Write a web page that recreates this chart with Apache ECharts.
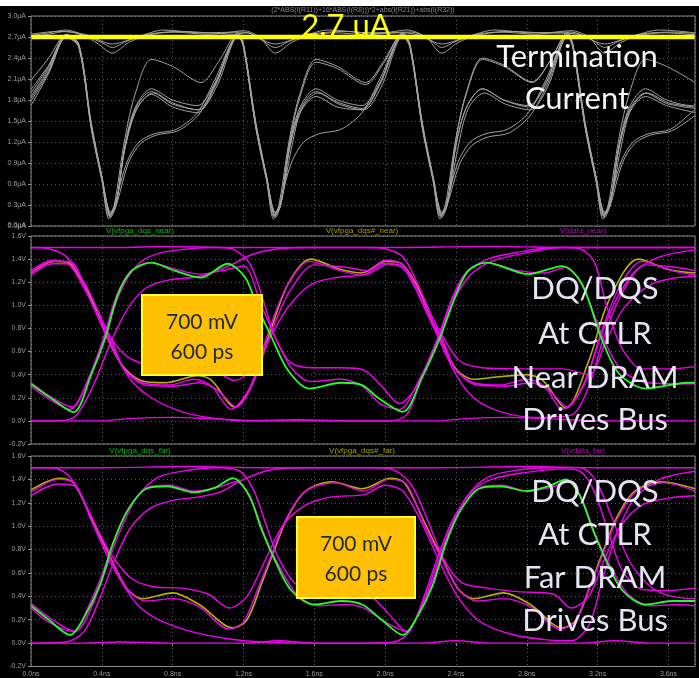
<!DOCTYPE html>
<html><head><meta charset="utf-8">
<script src="https://cdn.jsdelivr.net/npm/echarts@6/dist/echarts.min.js"></script>
<style>html,body{margin:0;padding:0;background:#fff}#c{width:699px;height:678px}</style>
</head><body><div id="c"></div>
<script>
// ---------- axis ticks ----------
const timeTicks = [0.0,0.4,0.8,1.2,1.6,2.0,2.4,2.8,3.2,3.6];
const currentTicks = [0.0,0.3,0.6,0.9,1.2,1.5,1.8,2.1,2.4,2.7,3.0];
const voltTicks = [-0.2,0.0,0.2,0.4,0.6,0.8,1.0,1.2,1.4,1.6];
const termLevel = [2.7];

// ---------- panel 1: termination current (uA), [ns, uA] ----------
const curTop1 = [[0,2.72],[0.1,2.76],[0.2,2.8],[0.3,2.72],[0.38,2.6],[0.46,2.47],[0.55,2.62],[0.65,2.72],[0.8,2.77],[1.0,2.74],[1.1,2.76],[1.2,2.79],[1.29,2.7],[1.38,2.47],[1.47,2.62],[1.57,2.72],[1.72,2.76],[1.9,2.73],[2.03,2.77],[2.12,2.8],[2.23,2.7],[2.32,2.47],[2.41,2.62],[2.51,2.72],[2.66,2.77],[2.85,2.74],[3.05,2.79],[3.15,2.7],[3.24,2.47],[3.33,2.62],[3.43,2.72],[3.58,2.76],[3.75,2.73]];
const curTop2 = [[0,2.7],[0.1,2.74],[0.2,2.78],[0.32,2.7],[0.4,2.62],[0.46,2.55],[0.54,2.64],[0.66,2.74],[0.85,2.78],[1.0,2.76],[1.15,2.74],[1.22,2.76],[1.3,2.66],[1.38,2.55],[1.46,2.64],[1.58,2.74],[1.78,2.78],[1.95,2.75],[2.1,2.76],[2.2,2.72],[2.26,2.64],[2.32,2.55],[2.4,2.64],[2.52,2.74],[2.72,2.78],[2.88,2.76],[3.05,2.75],[3.12,2.72],[3.18,2.64],[3.24,2.55],[3.32,2.64],[3.44,2.74],[3.62,2.77],[3.75,2.75]];
const curTop3 = [[0,2.74],[0.15,2.78],[0.3,2.74],[0.46,2.6],[0.6,2.7],[0.75,2.8],[0.95,2.76],[1.2,2.77],[1.38,2.6],[1.52,2.7],[1.68,2.8],[1.9,2.76],[2.15,2.77],[2.32,2.6],[2.46,2.7],[2.62,2.8],[2.82,2.76],[3.05,2.77],[3.24,2.6],[3.38,2.7],[3.55,2.8],[3.75,2.76]];
const curHigh = [[0,2.08],[0.1,2.4],[0.2,2.74],[0.27,2.6],[0.34,1.45],[0.4,0.68],[0.44,0.14],[0.47,0.3],[0.53,1.25],[0.59,1.9],[0.68,2.38],[0.8,2.28],[0.96,2.05],[1.06,2.35],[1.17,2.76],[1.2,2.6],[1.27,1.45],[1.33,0.68],[1.37,0.14],[1.4,0.3],[1.46,1.25],[1.52,1.9],[1.61,2.38],[1.73,2.28],[1.89,2.05],[1.99,2.35],[2.1,2.76],[2.14,2.6],[2.21,1.45],[2.27,0.68],[2.31,0.14],[2.34,0.3],[2.4,1.25],[2.46,1.9],[2.55,2.38],[2.67,2.28],[2.83,2.05],[2.93,2.35],[3.03,2.76],[3.06,2.6],[3.13,1.45],[3.19,0.68],[3.23,0.14],[3.26,0.3],[3.32,1.25],[3.38,1.9],[3.47,2.38],[3.59,2.28],[3.75,2.05]];
const curMid = [[0,1.85],[0.1,2.25],[0.2,2.72],[0.27,2.58],[0.34,1.42],[0.4,0.7],[0.45,0.2],[0.48,0.3],[0.53,1.15],[0.59,1.7],[0.68,1.96],[0.8,1.8],[0.94,1.72],[1.04,2.05],[1.17,2.74],[1.2,2.58],[1.27,1.42],[1.33,0.7],[1.38,0.2],[1.41,0.3],[1.46,1.15],[1.52,1.7],[1.61,1.96],[1.73,1.8],[1.87,1.72],[1.97,2.05],[2.1,2.74],[2.14,2.58],[2.21,1.42],[2.27,0.7],[2.32,0.2],[2.35,0.3],[2.4,1.15],[2.46,1.7],[2.55,1.96],[2.67,1.8],[2.81,1.72],[2.91,2.05],[3.03,2.74],[3.06,2.58],[3.13,1.42],[3.19,0.7],[3.24,0.2],[3.27,0.3],[3.32,1.15],[3.38,1.7],[3.47,1.96],[3.59,1.8],[3.73,1.72],[3.75,1.73]];
const curMid2 = [[0,1.82],[0.1,2.22],[0.2,2.7],[0.27,2.55],[0.34,1.4],[0.4,0.66],[0.45,0.16],[0.48,0.3],[0.53,1.1],[0.6,1.68],[0.69,1.9],[0.8,1.74],[0.95,1.66],[1.05,2.0],[1.17,2.71],[1.2,2.55],[1.27,1.4],[1.33,0.66],[1.38,0.16],[1.41,0.3],[1.47,1.1],[1.53,1.68],[1.62,1.9],[1.74,1.74],[1.88,1.66],[1.98,2.0],[2.1,2.71],[2.14,2.55],[2.21,1.4],[2.27,0.66],[2.32,0.16],[2.35,0.3],[2.41,1.1],[2.47,1.68],[2.56,1.9],[2.68,1.74],[2.82,1.66],[2.92,2.0],[3.03,2.71],[3.06,2.55],[3.13,1.4],[3.19,0.66],[3.24,0.16],[3.27,0.3],[3.33,1.1],[3.39,1.68],[3.48,1.9],[3.6,1.76],[3.75,1.7]];
const curLow = [[0,1.72],[0.1,2.18],[0.2,2.7],[0.27,2.56],[0.34,1.4],[0.4,0.66],[0.44,0.1],[0.47,0.28],[0.54,0.9],[0.61,1.2],[0.7,1.32],[0.82,1.38],[0.94,1.62],[1.04,2.1],[1.17,2.72],[1.2,2.56],[1.27,1.4],[1.33,0.66],[1.37,0.1],[1.4,0.28],[1.47,0.9],[1.54,1.2],[1.63,1.32],[1.75,1.38],[1.87,1.62],[1.97,2.1],[2.1,2.72],[2.14,2.56],[2.21,1.4],[2.27,0.66],[2.31,0.1],[2.34,0.28],[2.41,0.9],[2.48,1.2],[2.57,1.32],[2.69,1.38],[2.81,1.62],[2.91,2.1],[3.03,2.72],[3.06,2.56],[3.13,1.4],[3.19,0.66],[3.23,0.1],[3.26,0.28],[3.33,0.9],[3.4,1.2],[3.49,1.32],[3.61,1.38],[3.73,1.62],[3.75,1.66]];
const curMixA = [[0,1.95],[0.1,2.3],[0.2,2.73],[0.27,2.6],[0.34,1.48],[0.4,0.72],[0.45,0.18],[0.48,0.32],[0.53,1.1],[0.59,1.65],[0.68,1.88],[0.8,1.7],[0.94,1.62],[1.04,2.0],[1.17,2.73],[1.2,2.6],[1.27,1.48],[1.33,0.72],[1.38,0.18],[1.41,0.32],[1.46,1.2],[1.52,1.85],[1.61,2.34],[1.73,2.25],[1.89,2.02],[1.99,2.32],[2.1,2.75],[2.14,2.6],[2.21,1.48],[2.27,0.72],[2.32,0.18],[2.35,0.3],[2.42,0.88],[2.49,1.15],[2.58,1.27],[2.7,1.33],[2.82,1.58],[2.92,2.05],[3.03,2.7],[3.06,2.6],[3.13,1.48],[3.19,0.72],[3.24,0.18],[3.27,0.32],[3.32,1.1],[3.38,1.62],[3.47,1.85],[3.59,1.72],[3.75,1.62]];
const curMixB = [[0,1.78],[0.1,2.2],[0.2,2.71],[0.27,2.57],[0.34,1.44],[0.4,0.7],[0.45,0.12],[0.48,0.3],[0.53,1.12],[0.59,1.68],[0.68,1.92],[0.8,1.76],[0.94,1.66],[1.04,2.02],[1.17,2.72],[1.2,2.57],[1.27,1.44],[1.33,0.7],[1.38,0.12],[1.41,0.3],[1.46,1.1],[1.52,1.62],[1.61,1.85],[1.73,1.7],[1.87,1.66],[1.97,2.02],[2.1,2.72],[2.14,2.57],[2.21,1.44],[2.27,0.7],[2.32,0.12],[2.35,0.3],[2.4,1.25],[2.46,1.92],[2.55,2.4],[2.67,2.3],[2.83,2.06],[2.93,2.35],[3.03,2.76],[3.06,2.57],[3.13,1.44],[3.19,0.7],[3.24,0.12],[3.27,0.3],[3.32,1.12],[3.38,1.66],[3.47,1.9],[3.59,1.75],[3.75,1.68]];
const curMixC = [[0,1.9],[0.1,2.28],[0.2,2.72],[0.27,2.58],[0.34,1.43],[0.4,0.7],[0.45,0.15],[0.48,0.28],[0.55,0.9],[0.62,1.18],[0.71,1.3],[0.83,1.36],[0.95,1.6],[1.05,2.08],[1.17,2.71],[1.2,2.58],[1.27,1.43],[1.33,0.7],[1.38,0.15],[1.41,0.3],[1.46,1.12],[1.52,1.66],[1.61,1.92],[1.73,1.77],[1.87,1.68],[1.97,2.03],[2.1,2.73],[2.14,2.58],[2.21,1.43],[2.27,0.7],[2.32,0.15],[2.35,0.3],[2.4,1.15],[2.46,1.7],[2.55,1.96],[2.67,1.8],[2.81,1.7],[2.91,2.05],[3.03,2.73],[3.06,2.58],[3.13,1.43],[3.19,0.7],[3.24,0.15],[3.27,0.28],[3.34,0.9],[3.41,1.18],[3.5,1.3],[3.62,1.36],[3.75,1.58]];

// ---------- panel 2: near DRAM (V) ----------
const dqsNear = [[0,0.32],[0.12,0.19],[0.24,0.075],[0.34,0.4],[0.42,0.72],[0.49,1.09],[0.57,1.3],[0.68,1.37],[0.81,1.3],[0.96,1.24],[1.11,1.36],[1.21,1.24],[1.28,0.98],[1.36,0.72],[1.45,0.44],[1.57,0.28],[1.75,0.33],[1.87,0.31],[1.96,0.2],[2.1,0.08],[2.21,0.38],[2.31,0.72],[2.4,1.09],[2.47,1.3],[2.57,1.37],[2.81,1.27],[3.0,1.34],[3.11,1.19],[3.22,0.72],[3.32,0.41],[3.47,0.28],[3.71,0.33],[3.75,0.33]];
const dqsbNear = [[0,1.28],[0.13,1.38],[0.21,1.37],[0.3,1.18],[0.38,0.92],[0.43,0.72],[0.51,0.49],[0.62,0.35],[0.76,0.33],[0.94,0.39],[1.02,0.35],[1.15,0.12],[1.25,0.32],[1.34,0.72],[1.45,1.18],[1.58,1.4],[1.75,1.31],[1.87,1.28],[2.0,1.38],[2.08,1.37],[2.17,1.2],[2.25,0.92],[2.31,0.72],[2.4,0.45],[2.5,0.36],[2.63,0.38],[2.8,0.4],[2.89,0.35],[3.02,0.11],[3.15,0.52],[3.26,1.03],[3.43,1.4],[3.6,1.31],[3.75,1.28]];
const dataNearTop = [[0,1.5],[0.5,1.5],[0.75,1.51],[1.2,1.5],[1.6,1.5],[2.0,1.5],[2.6,1.51],[3.1,1.5],[3.5,1.5],[3.75,1.5]];
const dataNearBot = [[0,0.0],[0.4,0.0],[0.55,0.02],[0.8,0.03],[1.0,0.02],[1.3,0.0],[1.8,0.0],[2.3,0.0],[2.45,0.02],[2.7,0.03],[2.9,0.02],[3.2,0.0],[3.75,0.0]];
const dataNearA = [[0,0.3],[0.12,0.17],[0.22,0.1],[0.32,0.35],[0.41,0.72],[0.48,1.07],[0.56,1.29],[0.67,1.37],[0.8,1.32],[0.95,1.27],[1.08,1.3],[1.2,1.34],[1.3,1.0],[1.38,0.72],[1.47,0.46],[1.58,0.34],[1.75,0.36],[1.87,0.3],[1.97,0.15],[2.08,0.1],[2.19,0.35],[2.3,0.72],[2.38,1.07],[2.46,1.29],[2.57,1.37],[2.75,1.3],[2.9,1.28],[3.02,1.33],[3.12,1.15],[3.23,0.72],[3.33,0.45],[3.48,0.33],[3.75,0.32]];
const dataNearB = [[0,1.26],[0.12,1.36],[0.2,1.36],[0.3,1.15],[0.38,0.9],[0.44,0.72],[0.52,0.46],[0.63,0.33],[0.78,0.31],[0.92,0.36],[1.02,0.3],[1.13,0.1],[1.24,0.3],[1.33,0.72],[1.44,1.15],[1.57,1.38],[1.75,1.3],[1.87,1.26],[1.99,1.36],[2.08,1.35],[2.17,1.15],[2.25,0.9],[2.31,0.72],[2.39,0.46],[2.5,0.33],[2.65,0.31],[2.8,0.36],[2.9,0.3],[3.0,0.1],[3.12,0.3],[3.21,0.72],[3.32,1.15],[3.45,1.38],[3.62,1.3],[3.75,1.26]];
const dataNearC = [[0,1.3],[0.12,1.39],[0.22,1.35],[0.31,1.12],[0.39,0.88],[0.45,0.72],[0.53,0.44],[0.65,0.31],[0.8,0.3],[0.95,0.33],[1.05,0.27],[1.16,0.12],[1.26,0.35],[1.35,0.74],[1.46,1.12],[1.6,1.35],[1.78,1.33],[1.9,1.3],[2.0,1.39],[2.1,1.35],[2.19,1.12],[2.26,0.88],[2.32,0.72],[2.4,0.44],[2.52,0.31],[2.68,0.3],[2.82,0.33],[2.92,0.27],[3.03,0.12],[3.13,0.35],[3.22,0.74],[3.33,1.12],[3.47,1.35],[3.64,1.33],[3.75,1.3]];
const dataNearD = [[0,0.0],[0.15,0.0],[0.25,0.04],[0.35,0.3],[0.45,0.68],[0.55,0.98],[0.65,1.15],[0.78,1.22],[0.95,1.25],[1.1,1.33],[1.25,1.44],[1.4,1.49],[1.6,1.5],[1.9,1.5],[2.0,1.49],[2.1,1.42],[2.18,1.2],[2.26,0.92],[2.33,0.72],[2.42,0.52],[2.55,0.46],[2.75,0.45],[3.0,0.45],[3.15,0.4],[3.25,0.7],[3.35,0.98],[3.5,1.18],[3.65,1.24],[3.75,1.25]];
const dataNearE = [[0,1.5],[0.1,1.49],[0.2,1.42],[0.3,1.2],[0.38,0.95],[0.45,0.72],[0.55,0.55],[0.7,0.47],[0.9,0.44],[1.05,0.42],[1.15,0.35],[1.25,0.45],[1.35,0.72],[1.45,0.98],[1.58,1.18],[1.72,1.24],[1.9,1.27],[2.02,1.36],[2.12,1.3],[2.2,1.05],[2.3,0.72],[2.4,0.4],[2.5,0.2],[2.65,0.08],[2.85,0.03],[3.05,0.05],[3.15,0.3],[3.23,0.7],[3.32,1.05],[3.42,1.3],[3.55,1.42],[3.75,1.48]];
const dataNearF = [[0,1.28],[0.12,1.38],[0.22,1.38],[0.32,1.1],[0.4,0.82],[0.47,0.6],[0.56,0.36],[0.68,0.2],[0.85,0.08],[1.0,0.03],[1.2,0.0],[1.5,0.01],[1.8,0.0],[2.0,0.0],[2.12,0.05],[2.2,0.35],[2.3,0.72],[2.38,1.02],[2.48,1.26],[2.6,1.38],[2.78,1.45],[3.0,1.5],[3.1,1.49],[3.18,1.38],[3.25,1.0],[3.33,0.65],[3.45,0.45],[3.6,0.45],[3.75,0.47]];
const dataNearG = [[0,0.33],[0.12,0.2],[0.23,0.12],[0.33,0.38],[0.42,0.75],[0.5,1.1],[0.6,1.35],[0.72,1.45],[0.9,1.49],[1.05,1.5],[1.15,1.48],[1.24,1.35],[1.31,1.05],[1.38,0.72],[1.47,0.5],[1.6,0.46],[1.75,0.46],[1.88,0.44],[1.98,0.3],[2.08,0.15],[2.18,0.3],[2.28,0.65],[2.37,1.02],[2.46,1.28],[2.58,1.4],[2.75,1.46],[2.95,1.5],[3.2,1.5],[3.5,1.5],[3.75,1.5]];

// ---------- panel 3: far DRAM (V) ----------
const dqsFar = [[0,0.32],[0.1,0.2],[0.22,0.07],[0.3,0.22],[0.39,0.5],[0.46,0.84],[0.54,1.12],[0.65,1.32],[0.77,1.34],[0.92,1.29],[1.04,1.33],[1.14,1.41],[1.23,1.27],[1.3,0.98],[1.38,0.7],[1.47,0.45],[1.6,0.33],[1.75,0.36],[1.87,0.33],[1.98,0.2],[2.1,0.07],[2.18,0.22],[2.27,0.5],[2.34,0.84],[2.42,1.12],[2.53,1.32],[2.65,1.34],[2.8,1.3],[2.92,1.34],[3.02,1.4],[3.1,1.26],[3.17,0.98],[3.25,0.7],[3.34,0.45],[3.47,0.33],[3.62,0.36],[3.75,0.36]];
const dqsbFar = [[0,1.31],[0.16,1.41],[0.24,1.37],[0.35,1.04],[0.45,0.73],[0.54,0.47],[0.63,0.38],[0.8,0.43],[0.95,0.33],[1.14,0.13],[1.22,0.2],[1.3,0.5],[1.37,0.78],[1.45,1.08],[1.55,1.3],[1.7,1.38],[1.87,1.32],[2.03,1.41],[2.11,1.37],[2.22,1.04],[2.32,0.73],[2.41,0.47],[2.5,0.38],[2.67,0.43],[2.82,0.33],[3.0,0.13],[3.08,0.2],[3.16,0.5],[3.23,0.78],[3.31,1.08],[3.41,1.3],[3.56,1.38],[3.75,1.32]];
const dataFarTop = [[0,1.5],[0.4,1.5],[0.9,1.51],[1.3,1.5],[1.8,1.5],[2.3,1.5],[2.8,1.51],[3.2,1.5],[3.75,1.5]];
const dataFarBot = [[0,0.0],[0.3,0.0],[0.5,0.01],[0.8,0.0],[1.2,0.0],[1.4,0.02],[1.6,0.0],[2.2,0.0],[2.4,0.02],[2.6,0.0],[3.1,0.0],[3.3,0.02],[3.5,0.0],[3.75,0.0]];
const dataFarA = [[0,0.3],[0.1,0.18],[0.24,0.1],[0.32,0.3],[0.4,0.58],[0.47,0.88],[0.55,1.15],[0.66,1.33],[0.78,1.35],[0.92,1.3],[1.05,1.33],[1.16,1.38],[1.25,1.2],[1.32,0.92],[1.4,0.66],[1.5,0.42],[1.62,0.32],[1.78,0.33],[1.88,0.3],[2.0,0.18],[2.12,0.1],[2.2,0.3],[2.28,0.58],[2.35,0.88],[2.43,1.15],[2.54,1.33],[2.66,1.35],[2.8,1.3],[2.93,1.33],[3.04,1.38],[3.12,1.2],[3.19,0.92],[3.27,0.66],[3.37,0.42],[3.5,0.32],[3.65,0.33],[3.75,0.32]];
const dataFarB = [[0,1.29],[0.15,1.4],[0.25,1.36],[0.35,1.02],[0.45,0.72],[0.55,0.45],[0.65,0.36],[0.8,0.38],[0.95,0.31],[1.12,0.12],[1.2,0.18],[1.28,0.46],[1.36,0.76],[1.44,1.06],[1.55,1.3],[1.72,1.37],[1.88,1.3],[2.02,1.4],[2.12,1.36],[2.22,1.02],[2.32,0.72],[2.42,0.45],[2.52,0.36],[2.67,0.38],[2.82,0.31],[2.99,0.12],[3.07,0.18],[3.15,0.46],[3.23,0.76],[3.31,1.06],[3.42,1.3],[3.58,1.37],[3.75,1.3]];
const dataFarC = [[0,0.0],[0.2,0.01],[0.3,0.1],[0.38,0.35],[0.47,0.7],[0.56,0.98],[0.67,1.15],[0.8,1.22],[0.95,1.25],[1.08,1.3],[1.2,1.4],[1.35,1.48],[1.55,1.5],[1.95,1.5],[2.05,1.48],[2.15,1.35],[2.24,1.05],[2.33,0.72],[2.43,0.52],[2.58,0.47],[2.75,0.44],[2.95,0.42],[3.05,0.3],[3.15,0.4],[3.24,0.72],[3.33,1.0],[3.45,1.18],[3.6,1.24],[3.75,1.26]];
const dataFarD = [[0,1.5],[0.12,1.5],[0.22,1.42],[0.32,1.15],[0.4,0.9],[0.47,0.72],[0.57,0.55],[0.7,0.48],[0.85,0.47],[1.0,0.42],[1.12,0.3],[1.22,0.4],[1.32,0.7],[1.42,1.0],[1.55,1.18],[1.7,1.25],[1.88,1.27],[2.0,1.35],[2.1,1.3],[2.2,1.05],[2.3,0.72],[2.4,0.42],[2.52,0.2],[2.7,0.08],[2.9,0.03],[3.05,0.02],[3.15,0.15],[3.22,0.5],[3.3,0.9],[3.4,1.22],[3.55,1.4],[3.75,1.47]];
const dataFarE = [[0,1.26],[0.15,1.36],[0.25,1.34],[0.34,1.05],[0.42,0.78],[0.5,0.55],[0.6,0.33],[0.72,0.2],[0.9,0.1],[1.1,0.04],[1.3,0.01],[1.6,0.0],[1.9,0.0],[2.05,0.01],[2.14,0.1],[2.22,0.4],[2.3,0.75],[2.38,1.05],[2.48,1.28],[2.6,1.4],[2.8,1.46],[3.0,1.49],[3.1,1.47],[3.18,1.3],[3.26,0.95],[3.34,0.62],[3.45,0.46],[3.6,0.45],[3.75,0.47]];
const dataFarF = [[0,0.34],[0.12,0.2],[0.25,0.1],[0.34,0.3],[0.42,0.62],[0.5,0.95],[0.6,1.25],[0.72,1.42],[0.9,1.48],[1.05,1.5],[1.18,1.47],[1.26,1.3],[1.33,1.0],[1.4,0.72],[1.5,0.5],[1.65,0.44],[1.8,0.45],[1.92,0.4],[2.02,0.25],[2.12,0.1],[2.2,0.3],[2.28,0.62],[2.36,0.95],[2.46,1.25],[2.58,1.42],[2.75,1.48],[2.95,1.5],[3.1,1.5],[3.16,1.45],[3.22,1.3],[3.3,1.0],[3.38,0.7],[3.5,0.48],[3.62,0.4],[3.75,0.38]];

// ---------- styling ----------
const GRAY='#a2a2a2', MAG='#f000f0', GRN='#22ff22', YEL='#b4b400';
const AXC='#9a9a9a', GRIDC='#5a5a5a', FRAME='#8c8c8c';
const grids = [
  {left:31, top:16, width:664, height:210},
  {left:31, top:236, width:664, height:208},
  {left:31, top:456, width:664, height:210.5}
];
const isTick = (v, step) => Math.abs(v/step - Math.round(v/step)) < 1e-6;
function xAx(i){
  return {type:'value', gridIndex:i, min:0, max:3.75, interval:0.4,
    axisLine:{show:false}, axisTick:{show:i===2, length:3, lineStyle:{color:FRAME}},
    axisLabel:{show:i===2, color:AXC, fontSize:7, fontFamily:'Liberation Sans', margin:4, showMaxLabel:false,
      formatter:v=> isTick(v,0.4) ? v.toFixed(1)+'ns' : ''},
    splitLine:{show:true, lineStyle:{color:GRIDC, type:[1,3], width:1}}};
}
function yAx(i, min, max, step, unit){
  return {type:'value', gridIndex:i, min:min, max:max, interval:step,
    axisLine:{show:false}, axisTick:{show:true, length:3, lineStyle:{color:FRAME}},
    axisLabel:{color:AXC, fontSize:7, fontFamily:'Liberation Sans', margin:5, showMinLabel:true, showMaxLabel:true, hideOverlap:false,
      formatter:v=>{ if(Math.abs(v)<1e-9) v=0; return v.toFixed(1)+unit; }},
    splitLine:{show:true, lineStyle:{color:GRIDC, type:[1,3], width:1}}};
}
function ln(data, gi, color, width, z){
  return {type:'line', xAxisIndex:gi, yAxisIndex:gi, data:data, showSymbol:false, smooth:0.3,
    lineStyle:{color:color, width:width}, z:z||2, silent:true, animation:false};
}
const series = [];
[curTop1,curTop2,curTop3,curHigh,curMid,curMid2,curLow,curMixA,curMixB,curMixC].forEach(d=>series.push(ln(d,0,GRAY,1)));
series.push({type:'line', xAxisIndex:0, yAxisIndex:0, data:[[0,termLevel[0]],[3.75,termLevel[0]]],
  showSymbol:false, lineStyle:{color:'#ffff00', width:4.5}, z:5, silent:true, animation:false});

series.push(ln(dqsbNear,1,YEL,1.6,2));
[dataNearTop,dataNearBot,dataNearA,dataNearB,dataNearC,dataNearD,dataNearE,dataNearF,dataNearG].forEach(d=>series.push(ln(d,1,MAG,1.4,3)));
series.push(ln(dqsNear,1,GRN,1.8,4));

series.push(ln(dqsbFar,2,YEL,1.6,2));
[dataFarTop,dataFarBot,dataFarA,dataFarB,dataFarC,dataFarD,dataFarE,dataFarF].forEach(d=>series.push(ln(d,2,MAG,1.4,3)));
series.push(ln(dqsFar,2,GRN,1.8,4));

function txt(x,y,s,fill,font,align){
  return {type:'text', x:x, y:y, z:100, silent:true,
    style:{text:s, fill:fill, font:font, textAlign:align||'center', textVerticalAlign:'middle'}};
}
const BIG='31px Lato', BOX='21px Lato', SMALL='8px "Liberation Sans"';
const graphics = [
  {type:'rect', z:100, silent:true, shape:{x:0,y:0,width:699,height:6}, style:{fill:'#ffffff'}},
  {type:'rect', z:50, silent:true, shape:{x:31,y:16,width:664,height:210}, style:{fill:'none', stroke:FRAME, lineWidth:1}},
  {type:'rect', z:50, silent:true, shape:{x:31,y:236,width:664,height:208}, style:{fill:'none', stroke:FRAME, lineWidth:1}},
  {type:'rect', z:50, silent:true, shape:{x:31,y:456,width:664,height:210.5}, style:{fill:'none', stroke:FRAME, lineWidth:1}},
  txt(17,225,currentTicks[0].toFixed(1)+'µA',AXC,'7px "Liberation Sans"'),
  txt(363,10,'(2*ABS(I(R11))+16*ABS(I(R8)))*2+abs(I(R21))+abs(I(R32))','#8a8a8a','7px "Liberation Sans"'),
  txt(140,231,'V(vfpga_dqs_near)','#00c000',SMALL),
  txt(362,231,'V(vfpga_dqs#_near)','#a0a000',SMALL),
  txt(583,231,'V(data_near)','#c000c0',SMALL),
  txt(140,451,'V(vfpga_dqs_far)','#00c000',SMALL),
  txt(362,451,'V(vfpga_dqs#_far)','#a0a000',SMALL),
  txt(583,451,'V(vdata_far)','#c000c0',SMALL),
  txt(346,26,'2.7 uA','#ffff00',BIG),
  txt(577,57,'Termination','#f4f4f4',BIG),
  txt(577,99,'Current','#f4f4f4',BIG),
  txt(595,289,'DQ/DQS','#e4e4f2',BIG),
  txt(595,334,'At CTLR','#e4e4f2',BIG),
  txt(595,378,'Near DRAM','#e4e4f2',BIG),
  txt(595,420,'Drives Bus','#e4e4f2',BIG),
  txt(595,492,'DQ/DQS','#e4e4f2',BIG),
  txt(595,535,'At CTLR','#e4e4f2',BIG),
  txt(595,578,'Far DRAM','#e4e4f2',BIG),
  txt(595,621,'Drives Bus','#e4e4f2',BIG),
  {type:'rect', z:100, silent:true, shape:{x:142,y:295,width:120,height:80}, style:{fill:'#ffc000', stroke:'#ffff30', lineWidth:2}},
  txt(202,322,'700 mV','#1f2a44',BOX),
  txt(202,352,'600 ps','#1f2a44',BOX),
  {type:'rect', z:100, silent:true, shape:{x:297,y:517,width:118,height:81}, style:{fill:'#ffc000', stroke:'#ffff30', lineWidth:2}},
  txt(356,544,'700 mV','#1f2a44',BOX),
  txt(356,574,'600 ps','#1f2a44',BOX)
];

const chart = echarts.init(document.getElementById('c'), null, {renderer:'canvas'});
chart.setOption({
  backgroundColor:'#000000',
  animation:false,
  grid: grids,
  xAxis:[xAx(0),xAx(1),xAx(2)],
  yAxis:[yAx(0,0,3,0.3,'µA'), yAx(1,-0.2,1.6,0.2,'V'), yAx(2,-0.2,1.6,0.2,'V')],
  series: series,
  graphic: graphics
});
</script></body></html>
